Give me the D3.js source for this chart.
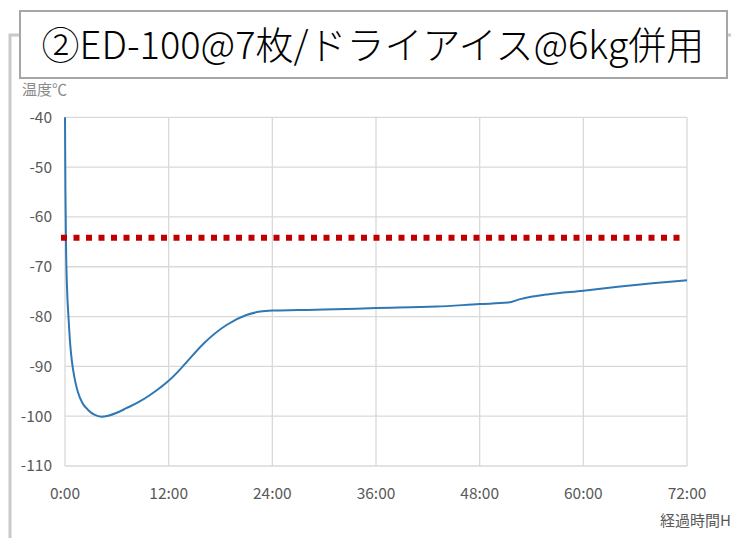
<!DOCTYPE html>
<html>
<head>
<meta charset="utf-8">
<script src="https://cdn.jsdelivr.net/npm/d3@7"></script>
<style>
  body { margin: 0; background: #fff; }
  text { font-family: "Noto Sans CJK JP", "Noto Sans", sans-serif; }
</style>
</head>
<body>
<div id="chart"></div>
<script>
// elapsed hours and temperature (°C)
const hours = [0, 0.05, 0.12, 0.25, 0.4, 0.6, 0.8, 1.1, 1.5, 2.0, 2.7, 3.4, 4.2, 5.0, 6.0, 7.1, 8.5, 9.8, 11, 12,
  13, 14, 16, 18.7, 21, 22.6, 24, 27, 30, 36, 43, 48, 51.3, 52.7, 56, 60, 64, 68, 72];
const temps = [-40, -55, -66, -75, -80, -85.5, -89, -92.3, -95.2, -97.3, -98.8, -99.7, -100.1, -99.9, -99.3, -98.4, -97.2, -95.8, -94.3, -92.9,
  -91.2, -89.3, -85.5, -81.7, -79.7, -79.0, -78.8, -78.7, -78.6, -78.3, -78.0, -77.5, -77.2, -76.5, -75.5, -74.8, -74.0, -73.3, -72.7];
const limitTemp = -64.2;
const yTicks = [-40, -50, -60, -70, -80, -90, -100, -110];
const xTicks = [0, 12, 24, 36, 48, 60, 72];
const xTickLabels = ["0:00", "12:00", "24:00", "36:00", "48:00", "60:00", "72:00"];
const title = "②ED-100@7枚/ドライアイス@6kg併用";

const W = 731, H = 538;
const svg = d3.select("#chart").append("svg")
  .attr("width", W).attr("height", H);

const x = d3.scaleLinear().domain([0, 72]).range([65, 687]);
const y = d3.scaleLinear().domain([-110, -40]).range([466, 117.3]);

// outer frame of the slide graphic
svg.append("path")
  .attr("d", "M10,538 V35 H731")
  .attr("fill", "none").attr("stroke", "#c9c9c9").attr("stroke-width", 3);

// axis unit
svg.append("text").attr("x", 22).attr("y", 95)
  .attr("font-size", 15).attr("fill", "#8a8a8a").text("温度℃");

// grid
const g = svg.append("g");
g.selectAll("line.h").data(yTicks).join("line")
  .attr("x1", x(0)).attr("x2", x(72))
  .attr("y1", d => y(d)).attr("y2", d => y(d))
  .attr("stroke", "#d9d9d9").attr("stroke-width", 1.3);
g.selectAll("line.v").data(xTicks).join("line")
  .attr("y1", y(-40)).attr("y2", y(-110))
  .attr("x1", d => x(d)).attr("x2", d => x(d))
  .attr("stroke", "#d9d9d9").attr("stroke-width", 1.3);

// tick labels
svg.append("g").selectAll("text").data(yTicks).join("text")
  .attr("x", 52).attr("y", d => y(d)).attr("dy", "0.35em")
  .attr("text-anchor", "end").attr("font-size", 15.5).attr("fill", "#595959")
  .text(d => d);
svg.append("g").selectAll("text").data(xTicks).join("text")
  .attr("x", d => x(d)).attr("y", 494).attr("dy", "0.35em")
  .attr("text-anchor", "middle").attr("font-size", 15.5).attr("fill", "#595959")
  .text((d, i) => xTickLabels[i]);
svg.append("text").attr("x", 731).attr("y", 521).attr("dy", "0.35em")
  .attr("text-anchor", "end").attr("font-size", 15).attr("fill", "#595959")
  .text("経過時間H");

// temperature curve
const line = d3.line()
  .x((d, i) => x(hours[i]))
  .y(d => y(d))
  .curve(d3.curveMonotoneX);
svg.append("path").datum(temps)
  .attr("d", line)
  .attr("fill", "none").attr("stroke", "#2f78b5").attr("stroke-width", 2);

// limit line
svg.append("line")
  .attr("x1", x(0) - 4).attr("x2", x(71.6))
  .attr("y1", y(limitTemp)).attr("y2", y(limitTemp))
  .attr("stroke", "#c00000").attr("stroke-width", 6)
  .attr("stroke-dasharray", "6,6.5");

// title box
svg.append("rect").attr("x", 20).attr("y", 11).attr("width", 707).attr("height", 67)
  .attr("fill", "#fff").attr("stroke", "#a6a6a6").attr("stroke-width", 2);
svg.append("text").attr("x", 373).attr("y", 45).attr("dy", "0.36em")
  .attr("text-anchor", "middle").attr("font-size", 38).attr("font-weight", 300)
  .attr("fill", "#000")
  .text(title);
</script>
</body>
</html>
